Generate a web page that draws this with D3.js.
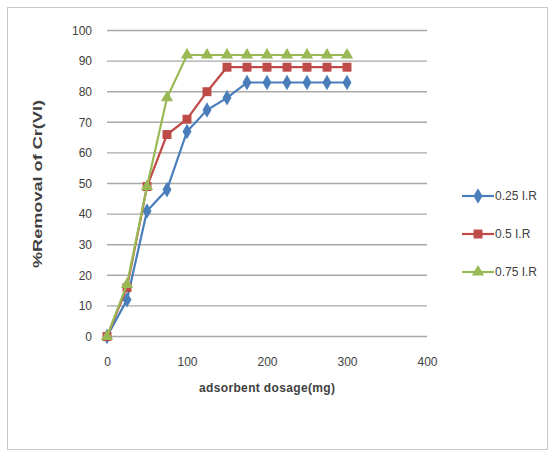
<!DOCTYPE html>
<html>
<head>
<meta charset="utf-8">
<script src="https://cdn.jsdelivr.net/npm/d3@7"></script>
<style>
  body { margin: 0; background: #fff; }
  svg text { font-family: "Liberation Sans", Arial, sans-serif; fill: #404040; }
</style>
</head>
<body>
<svg id="chart"></svg>
<script>
// data
const dosage = [0, 25, 50, 75, 100, 125, 150, 175, 200, 225, 250, 275, 300];
const ir025 = [0, 12, 41, 48, 67, 74, 78, 83, 83, 83, 83, 83, 83];
const ir05 = [0, 16, 49, 66, 71, 80, 88, 88, 88, 88, 88, 88, 88];
const ir075 = [0, 17, 49, 78, 92, 92, 92, 92, 92, 92, 92, 92, 92];
const seriesNames = ["0.25 I.R", "0.5 I.R", "0.75 I.R"];
const xTicks = [0, 100, 200, 300, 400];
const yTicks = [0, 10, 20, 30, 40, 50, 60, 70, 80, 90, 100];

const width = 554, height = 457;
const colors = ["#4a7ebb", "#be4b48", "#98b954"];
const symbols = [d3.symbolDiamond, d3.symbolSquare, d3.symbolTriangle];
const symSizes = [70, 80, 65];

const svg = d3.select("#chart").attr("width", width).attr("height", height);

// outer chart frame
svg.append("rect")
  .attr("x", 7.5).attr("y", 7.5)
  .attr("width", 540).attr("height", 442)
  .attr("fill", "#fff").attr("stroke", "#c8c8c8");

const x = d3.scaleLinear().domain([0, 400]).range([107, 427]);
const y = d3.scaleLinear().domain([0, 100]).range([336.5, 30.5]);

// gridlines
svg.append("g").selectAll("line")
  .data(yTicks)
  .enter().append("line")
  .attr("x1", x(0)).attr("x2", x(400))
  .attr("y1", d => y(d)).attr("y2", d => y(d))
  .attr("stroke", "#a8a8a8").attr("stroke-width", 1.4);

// y axis
const yAxis = svg.append("g")
  .attr("transform", `translate(${x(0)},0)`)
  .call(d3.axisLeft(y).tickValues(yTicks).tickSize(0).tickPadding(15));
yAxis.select(".domain").remove();
yAxis.selectAll("text").style("font-size", "12px").attr("fill", "#404040");

// x axis
const xAxis = svg.append("g")
  .attr("transform", `translate(0,${y(0)})`)
  .call(d3.axisBottom(x).tickValues(xTicks).tickSize(0).tickPadding(21));
xAxis.select(".domain").remove();
xAxis.selectAll("text").style("font-size", "12px").attr("fill", "#404040");

// axis titles
svg.append("text")
  .attr("transform", "translate(42,184) rotate(-90)")
  .attr("text-anchor", "middle")
  .attr("textLength", 168)
  .attr("lengthAdjust", "spacingAndGlyphs")
  .style("font-size", "13px").style("font-weight", "bold")
  .text("%Removal of Cr(VI)");

svg.append("text")
  .attr("x", 267).attr("y", 392)
  .attr("text-anchor", "middle")
  .attr("textLength", 136)
  .style("font-size", "12px").style("font-weight", "bold")
  .text("adsorbent dosage(mg)");

// series
const allSeries = [ir025, ir05, ir075];
const line = d3.line()
  .x((d, i) => x(dosage[i]))
  .y(d => y(d));

allSeries.forEach((vals, k) => {
  const g = svg.append("g");
  g.append("path")
    .datum(vals)
    .attr("fill", "none")
    .attr("stroke", colors[k])
    .attr("stroke-width", 2.2)
    .attr("d", line);
  g.selectAll("path.mark")
    .data(vals)
    .enter().append("path")
    .attr("class", "mark")
    .attr("transform", (d, i) => `translate(${x(dosage[i])},${y(d)})`)
    .attr("d", d3.symbol().type(symbols[k]).size(symSizes[k]))
    .attr("fill", colors[k]);
});

// legend
const legend = svg.append("g");
seriesNames.forEach((name, k) => {
  const ly = 196 + k * 38;
  legend.append("line")
    .attr("x1", 462).attr("x2", 494)
    .attr("y1", ly).attr("y2", ly)
    .attr("stroke", colors[k]).attr("stroke-width", 2.2);
  legend.append("path")
    .attr("transform", `translate(478,${ly})`)
    .attr("d", d3.symbol().type(symbols[k]).size(symSizes[k]))
    .attr("fill", colors[k]);
  legend.append("text")
    .attr("x", 495).attr("y", ly + 4)
    .style("font-size", "12px")
    .text(name);
});
</script>
</body>
</html>
